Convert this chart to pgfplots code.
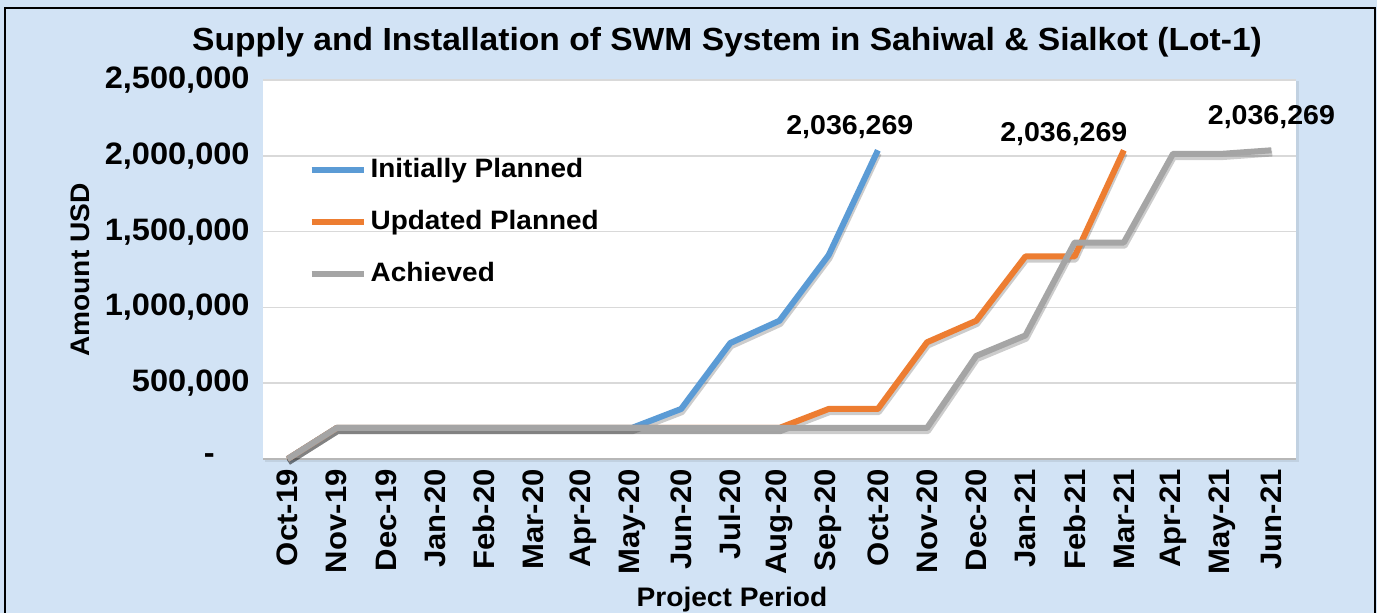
\documentclass[border=0pt]{standalone}
\usepackage{pgfplots}
\pgfplotsset{compat=1.18}
\usepackage{fontspec}
\setmainfont{Liberation Sans}[FakeStretch=1.05]
\definecolor{bgblue}{RGB}{210,227,245}
\definecolor{cblue}{RGB}{91,155,213}
\definecolor{corange}{RGB}{237,125,49}
\definecolor{cgray}{RGB}{165,165,165}
\definecolor{cgrid}{RGB}{217,217,217}
\begin{document}
\begin{tikzpicture}[x=1pt,y=1pt]
\path[use as bounding box] (0,0) rectangle (688.5,306.5);
\fill[bgblue] (0,0) rectangle (688.5,306.5);
\draw[black, line width=1pt] (2.5,0) -- (2.5,302.5) -- (687.5,302.5) -- (687.5,0);
\node[font=\bfseries\fontsize{16}{18}\selectfont] at (363.5,285.5) {Supply and Installation of SWM System in Sahiwal \& Sialkot (Lot-1)};
\node[font=\bfseries\fontsize{13.4}{15}\selectfont, rotate=90] at (40,171.5) {Amount USD};
\node[font=\bfseries\fontsize{13.4}{15}\selectfont] at (366,6.5) {Project Period};
\fill[black, opacity=0.08] (132.5,75.5) rectangle (649.5,266);
\begin{axis}[
  at={(131.5pt,77pt)}, anchor=south west,
  scale only axis, width=516.5pt, height=189.5pt,
  xmin=-0.5, xmax=20.5, ymin=0, ymax=2500000,
  clip=false,
  scaled y ticks=false,
  axis background/.style={fill=white},
  axis line style={draw=none},
  major tick length=0pt,
  ymajorgrids, grid style={cgrid, line width=0.8pt},
  xtick={0,...,20},
  xticklabels={Oct-19,Nov-19,Dec-19,Jan-20,Feb-20,Mar-20,Apr-20,May-20,Jun-20,Jul-20,Aug-20,Sep-20,Oct-20,Nov-20,Dec-20,Jan-21,Feb-21,Mar-21,Apr-21,May-21,Jun-21},
  ytick={0,500000,1000000,1500000,2000000,2500000},
  yticklabels={{-\rule{17.5pt}{0pt}},{500,000},{1,000,000},{1,500,000},{2,000,000},{2,500,000}},
  xticklabel style={rotate=90, anchor=east, inner xsep=0pt, xshift=-5pt, font=\bfseries\fontsize{14.8}{17}\selectfont},
  yticklabel style={anchor=east, inner xsep=0pt, xshift=-6.5pt, font=\bfseries\fontsize{15.5}{17}\selectfont},
  /pgf/number format/assume math mode=true,
  legend style={at={(0.038,0.844)}, anchor=north west, draw=none, fill=none,
    font=\bfseries\fontsize{13.3}{15}\selectfont, row sep=0pt,
    nodes={text height=10.5pt, text depth=3pt, inner ysep=6.25pt}},
  legend cell align=left,
  legend image code/.code={\draw[#1, line width=3pt] (0pt,0pt) -- (26pt,0pt);},
  every axis plot/.append style={line width=3pt, line join=round},
]
\draw[cgray!80, line width=0.8pt] (axis cs:-0.5,0) -- (axis cs:20.5,0);
% shadows
\addplot[forget plot, black, opacity=0.2, transform canvas={xshift=0.4pt,yshift=-1.6pt}] coordinates {(0,0) (1,205000) (2,205000) (3,205000) (4,205000) (5,205000) (6,205000) (7,205000) (8,330000) (9,765000) (10,912000) (11,1345000) (12,2036269)};
\addplot[forget plot, black, opacity=0.2, transform canvas={xshift=0.4pt,yshift=-1.6pt}] coordinates {(0,0) (1,205000) (2,205000) (3,205000) (4,205000) (5,205000) (6,205000) (7,205000) (8,205000) (9,205000) (10,205000) (11,330000) (12,330000) (13,770000) (14,912000) (15,1336000) (16,1336000) (17,2036269)};
\addplot[forget plot, black, opacity=0.2, transform canvas={xshift=0.4pt,yshift=-1.6pt}] coordinates {(0,0) (1,205000) (2,205000) (3,205000) (4,205000) (5,205000) (6,205000) (7,205000) (8,205000) (9,205000) (10,205000) (11,205000) (12,205000) (13,205000) (14,680000) (15,815000) (16,1428000) (17,1428000) (18,2013000) (19,2013000) (20,2036269)};
% series
\addplot[cblue] coordinates {(0,0) (1,205000) (2,205000) (3,205000) (4,205000) (5,205000) (6,205000) (7,205000) (8,330000) (9,765000) (10,912000) (11,1345000) (12,2036269)};
\addlegendentry{Initially Planned}
\addplot[corange] coordinates {(0,0) (1,205000) (2,205000) (3,205000) (4,205000) (5,205000) (6,205000) (7,205000) (8,205000) (9,205000) (10,205000) (11,330000) (12,330000) (13,770000) (14,912000) (15,1336000) (16,1336000) (17,2036269)};
\addlegendentry{Updated Planned}
\addplot[cgray] coordinates {(0,0) (1,205000) (2,205000) (3,205000) (4,205000) (5,205000) (6,205000) (7,205000) (8,205000) (9,205000) (10,205000) (11,205000) (12,205000) (13,205000) (14,680000) (15,815000) (16,1428000) (17,1428000) (18,2013000) (19,2013000) (20,2036269)};
\addlegendentry{Achieved}
\node[font=\bfseries\fontsize{13.6}{15}\selectfont] at (axis cs:11.43,2190000) {2,036,269};
\node[font=\bfseries\fontsize{13.6}{15}\selectfont] at (axis cs:15.78,2144000) {2,036,269};
\node[font=\bfseries\fontsize{13.6}{15}\selectfont] at (axis cs:20.0,2256000) {2,036,269};
\end{axis}
\end{tikzpicture}
\end{document}
